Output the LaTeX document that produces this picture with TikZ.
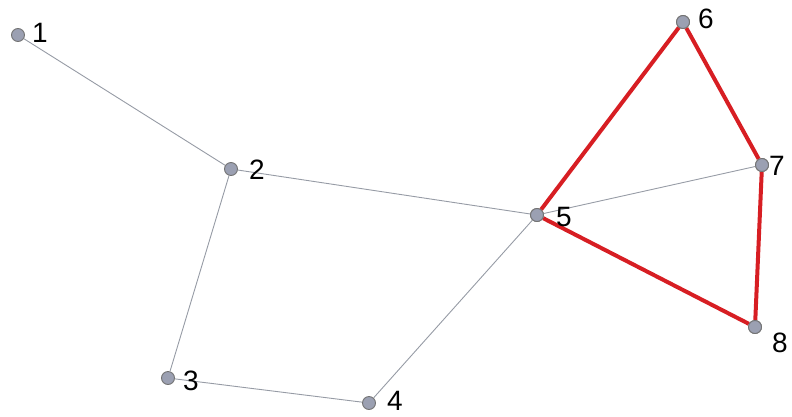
\documentclass[tikz,border=0pt]{standalone}
\usepackage{fontspec}
\setmainfont{Liberation Sans}
\begin{document}
\begin{tikzpicture}[x=1pt,y=-1pt,
  vert/.style={circle,draw=black!55,fill={rgb,255:red,155;green,160;blue,178},line width=0.9pt,minimum size=13pt,inner sep=0pt},
  lbl/.style={font=\fontsize{28}{28}\selectfont,inner sep=0pt},
  thin/.style={draw={rgb,255:red,150;green,155;blue,165},line width=0.9pt},
  hot/.style={draw={rgb,255:red,215;green,30;blue,35},line width=4pt}]
\useasboundingbox (0,0) rectangle (792,416);
\node[vert] (n1) at (18,35) {};
\node[vert] (n2) at (231,169) {};
\node[vert] (n3) at (168,378) {};
\node[vert] (n4) at (369,403) {};
\node[vert] (n5) at (537,215) {};
\node[vert] (n6) at (683,22) {};
\node[vert] (n7) at (762,165) {};
\node[vert] (n8) at (755,327) {};
\path[thin] (n1) -- (n2) (n2) -- (n5) (n2) -- (n3) (n3) -- (n4) (n4) -- (n5) (n5) -- (n7);
\path[hot] (n5) -- (n6) (n6) -- (n7) (n7) -- (n8) (n8) -- (n5);
\node[vert] at (n5) {};
\node[vert] at (n6) {};
\node[vert] at (n7) {};
\node[vert] at (n8) {};
\node[lbl] (l1) at (40,33) {1};
\node[lbl] (l2) at (257,170) {2};
\node[lbl] (l3) at (191,381) {3};
\node[lbl] (l4) at (395,401) {4};
\node[lbl] (l5) at (564,217) {5};
\node[lbl] (l6) at (706,19) {6};
\node[lbl] (l7) at (777,166) {7};
\node[lbl] (l8) at (780,343) {8};
\end{tikzpicture}
\end{document}
